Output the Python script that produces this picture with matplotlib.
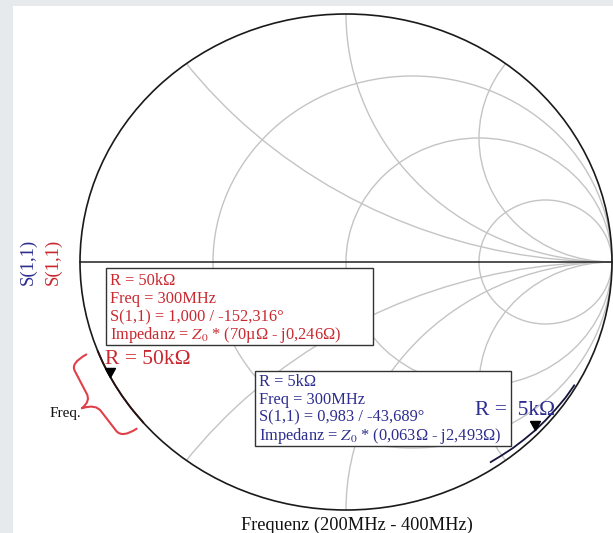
import numpy as np
import matplotlib
matplotlib.use("Agg")
import matplotlib.pyplot as plt
from matplotlib.patches import Circle, Rectangle, PathPatch
from matplotlib.path import Path

plt.rcParams["font.family"] = ["Liberation Serif", "DejaVu Serif"]
plt.rcParams["mathtext.fontset"] = "stix"

# Smith chart grid
R_CIRCLES = [1 / 3, 1.0, 3.0]
X_ARCS = [0.5, 1.0, 2.0, -0.5, -1.0, -2.0]

# S(1,1) sweep, 200 MHz .. 400 MHz
FREQ_MHZ = [200, 225, 250, 275, 300, 325, 350, 375, 400]
S11_50K_MAG = [1.000, 1.000, 1.000, 1.000, 1.000, 1.000, 1.000, 1.000, 1.000]
S11_50K_ANG = [-139.5, -143.7, -147.1, -150.0, -152.316, -154.4, -156.2, -157.7, -159.1]
S11_5K_MAG = [0.992, 0.990, 0.987, 0.985, 0.983, 0.980, 0.978, 0.975, 0.973]
S11_5K_ANG = [-29.9, -33.5, -37.0, -40.4, -43.689, -47.0, -50.1, -53.2, -56.2]
MARKER_FREQ = 300

LABEL_50K = ["R = 50kΩ", "Freq = 300MHz", "S(1,1) = 1,000 / -152,316°",
             "Impedanz = $Z_0$ * (70µΩ - j0,246Ω)"]
LABEL_5K = ["R = 5kΩ", "Freq = 300MHz", "S(1,1) = 0,983 / -43,689°",
            "Impedanz = $Z_0$ * (0,063Ω - j2,493Ω)"]

RED = "#c9282f"
BLUE = "#2d2d8f"
GRID = "#c4c4c4"

W, H = 613, 533
CX, CY, RX, RY = 346.0, 262.0, 266.0, 248.0


def fx(x):
    return x / W


def fy(y):
    return 1 - y / H


def polar(mag, ang):
    a = np.deg2rad(np.asarray(ang))
    m = np.asarray(mag)
    return m * np.cos(a), m * np.sin(a)


def draw_grid(ax):
    unit = Circle((0, 0), 1, transform=ax.transData, fill=False)
    for r in R_CIRCLES:
        c = Circle((r / (1 + r), 0), 1 / (1 + r), fill=False, ec=GRID, lw=1.0, zorder=1)
        ax.add_patch(c)
    for x in X_ARCS:
        c = Circle((1, 1 / x), abs(1 / x), fill=False, ec=GRID, lw=1.0, zorder=1)
        ax.add_patch(c)
        c.set_clip_path(unit)
    ax.plot([-1, 1], [0, 0], color="#222222", lw=1.1, zorder=2)
    ax.add_patch(Circle((0, 0), 1, fill=False, ec="#1a1a1a", lw=1.2, zorder=2))


def draw_trace(ax, mag, ang, color):
    x, y = polar(mag, ang)
    ax.plot(x, y, color=color, lw=1.3, zorder=4, solid_capstyle="butt")
    i = FREQ_MHZ.index(MARKER_FREQ)
    tri = [(-0.55, 1.0), (0.55, 1.0), (0.0, 0.0), (-0.55, 1.0)]
    ax.plot(x[i], y[i], marker=tri, ms=13, color="black", zorder=6)


def draw_info_box(ax, lines, color, x0, y0, x1, y1, tx, ty):
    ax.add_patch(Rectangle((fx(x0), fy(y1)), fx(x1) - fx(x0), fy(y0) - fy(y1),
                           transform=ax.transAxes, fc="white", ec="#333333",
                           lw=1.0, zorder=5))
    for k, s in enumerate(lines):
        ax.text(fx(tx), fy(ty + 18 * k), s, transform=ax.transAxes, color=color,
                fontsize=11.8, va="center", ha="left", zorder=7)


def draw_brace(ax, a_start, a_end):
    # curly brace just outside the unit circle, spanning the sweep
    mid = (a_start + a_end) / 2
    pts = [(a_end, 1.045), (a_end + 0.6, 1.115), (a_end + 2.5, 1.11),
           (mid - 2.2, 1.11), (mid - 0.4, 1.11), (mid, 1.155),
           (mid + 0.6, 1.10), (mid + 2.5, 1.10),
           (a_start - 2.2, 1.10), (a_start - 0.3, 1.10), (a_start, 1.035)]
    xy = [polar(r, a) for a, r in pts]
    codes = [Path.MOVETO, Path.CURVE3, Path.CURVE3, Path.LINETO, Path.CURVE3,
             Path.CURVE3, Path.CURVE3, Path.CURVE3, Path.LINETO, Path.CURVE3,
             Path.CURVE3]
    ax.add_patch(PathPatch(Path(xy, codes), fill=False, ec="#e0404a", lw=1.5,
                           zorder=4, capstyle="round", joinstyle="round"))


def main():
    fig = plt.figure(figsize=(W / 100, H / 100), dpi=100, facecolor="#e6eaed")
    ax = fig.add_axes([0, 0, 1, 1])
    ax.set_facecolor("none")
    ax.set_xlim(-CX / RX, (W - CX) / RX)
    ax.set_ylim(-(H - CY) / RY, CY / RY)
    ax.axis("off")
    ax.add_patch(Rectangle((fx(13), 0), 1 - fx(13), fy(6), transform=ax.transAxes,
                           fc="white", ec="none", zorder=0))

    draw_grid(ax)
    draw_trace(ax, S11_50K_MAG, S11_50K_ANG, "#2a1212")
    draw_trace(ax, S11_5K_MAG, S11_5K_ANG, "#14143c")
    draw_brace(ax, S11_50K_ANG[0], S11_50K_ANG[-1])

    draw_info_box(ax, LABEL_50K, RED, 105.5, 268, 373, 345, 109.5, 281)
    draw_info_box(ax, LABEL_5K, BLUE, 254.5, 371, 511, 446, 259, 381.5)

    ax.text(fx(105), fy(364), "R = 50kΩ", transform=ax.transAxes, color=RED,
            fontsize=15.5, ha="left", va="baseline", zorder=7)
    ax.text(fx(475), fy(415), "R =  5kΩ", transform=ax.transAxes, color=BLUE,
            fontsize=15.5, ha="left", va="baseline", zorder=7)
    ax.text(fx(50), fy(414), "Freq.", transform=ax.transAxes, color="#111111",
            fontsize=11, ha="left", va="center", zorder=7)

    ax.text(fx(28), fy(262), "S(1,1)", transform=ax.transAxes, color=BLUE,
            fontsize=13.5, rotation=90, ha="center", va="center")
    ax.text(fx(53), fy(262), "S(1,1)", transform=ax.transAxes, color=RED,
            fontsize=13.5, rotation=90, ha="center", va="center")

    ax.text(fx(357), fy(525), "Frequenz (200MHz - 400MHz)", transform=ax.transAxes,
            color="#111111", fontsize=13.2, ha="center", va="center")

    fig.savefig("out.png", dpi=100, facecolor=fig.get_facecolor())
    plt.close(fig)


if __name__ == "__main__":
    main()
